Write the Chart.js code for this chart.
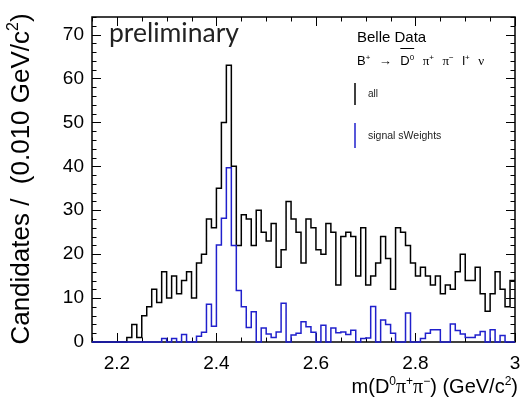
<!DOCTYPE html>
<html>
<head>
<meta charset="utf-8">
<script src="https://cdn.jsdelivr.net/npm/chart.js@4.4.1/dist/chart.umd.min.js"></script>
<style>
    html, body { margin: 0; padding: 0; background: #fff; }
    #mass_hist { display: block; }
</style>
</head>
<body>
<canvas id="mass_hist" width="522" height="400"></canvas>
<script>
// m(D0 pi+ pi-) distribution, 0.010 GeV/c2 bins starting at 2.15
var binLow = 2.15;
var binWidth = 0.010;

// "all" candidates, one entry per bin
var allCounts = [
    0, 0, 0, 0, 0, 0, 0, 1, 4, 1,
    6, 8, 12, 9, 16, 10, 15, 11, 14, 16,
    10, 18, 20, 28, 26, 35, 50, 63, 40, 22,
    29, 28, 22, 30, 25, 23, 27, 17, 21, 32,
    28, 25, 18, 28, 26, 21, 20, 27, 25, 13,
    24, 25, 24, 15, 26, 13, 15, 18, 24, 19,
    12, 26, 25, 22, 18, 15, 17, 15, 13, 15,
    11, 13, 12, 16, 20, 14, 14, 17, 11, 7,
    11, 16, 12, 8, 14
];

// signal sWeights, one entry per bin
var signalWeights = [
    0, 0, 0, 0, 0, 0, 0, 0, 0, 0,
    0, 0, 0, 0, 0.8, 0, 0.8, 0, 1.7, 0,
    0, 1.3, 2.2, 8.6, 3.6, 22.1, 28.2, 39.7, 22, 11.7,
    8, 3.3, 6.9, 0, 3.2, 1.8, 1.0, 2.3, 8.8, 0,
    1.6, 2.0, 4.6, 3.5, 2.2, 0, 3.8, 0, 3.2, 2.1,
    2.3, 1.7, 2.7, 0, 0.8, 0.9, 8.1, 0, 5, 4,
    2, 0, 0, 6.6, 0, 0, 0.8, 2, 2.8, 2.8,
    0, 0, 4.1, 2.6, 1.8, 1, 1, 1.6, 2.4, 0,
    2.8, 0, 1.5, 0, 0
];

var xTickLabels = ['2.2', '2.4', '2.6', '2.8', '3'];
var yTickLabels = ['0', '10', '20', '30', '40', '50', '60', '70'];

var SANS = '"Liberation Sans", Arial, Helvetica, sans-serif';
var SERIF = '"Liberation Serif", "Times New Roman", serif';

function histPoints(values){
    var pts = [];
    for (var i = 0; i < values.length; i++) {
        pts.push({x: binLow + i * binWidth, y: values[i]});
    }
    // close the last bin at its upper edge
    pts.push({x: binLow + values.length * binWidth, y: values[values.length - 1]});
    return pts;
}

function xLabel(v){
    var s = String(Number(v.toFixed(2)));
    return xTickLabels.indexOf(s) >= 0 ? s : '';
}

function yLabel(v){
    var s = String(Math.round(v));
    return yTickLabels.indexOf(s) >= 0 ? s : '';
}

// draw a run of text pieces: [text, font, dy, advance]
function drawRich(ctx, x, y, parts, align){
    var widths = parts.map(function(p){
        ctx.font = p[1];
        return p[3] !== undefined ? p[3] : ctx.measureText(p[0]).width;
    });
    var total = widths.reduce(function(s, w){ return s + w; }, 0);
    var cx = x;
    if (align === 'right') cx = x - total;
    if (align === 'center') cx = x - total / 2;
    var spans = [];
    parts.forEach(function(p, i){
        ctx.font = p[1];
        if (p[3] === undefined) ctx.fillText(p[0], cx, y + (p[2] || 0));
        spans.push([cx, cx + widths[i]]);
        cx += widths[i];
    });
    return spans;
}

var framePlugin = {
    id: 'frame',
    beforeDatasetsDraw: function(chart){
        var ctx = chart.ctx;
        var a = chart.chartArea;
        var xs = chart.scales.x, ys = chart.scales.y;
        ctx.save();
        ctx.strokeStyle = '#000';
        ctx.lineWidth = 1;
        ctx.beginPath();
        xs.ticks.forEach(function(t){
            var px = Math.round(xs.getPixelForValue(t.value)) + 0.5;
            var len = xLabel(t.value) ? 9 : 4.5;
            ctx.moveTo(px, a.bottom); ctx.lineTo(px, a.bottom - len);
            ctx.moveTo(px, a.top); ctx.lineTo(px, a.top + len);
        });
        ys.ticks.forEach(function(t){
            var py = Math.round(ys.getPixelForValue(t.value)) + 0.5;
            var len = yLabel(t.value) ? 9 : 4.5;
            ctx.moveTo(a.left, py); ctx.lineTo(a.left + len, py);
            ctx.moveTo(a.right, py); ctx.lineTo(a.right - len, py);
        });
        ctx.stroke();
        ctx.lineWidth = 1.5;
        ctx.strokeRect(a.left, a.top, a.right - a.left, a.bottom - a.top);
        ctx.restore();
    },
    afterDraw: function(chart){
        var ctx = chart.ctx;
        ctx.save();
        ctx.fillStyle = '#000';
        ctx.textBaseline = 'alphabetic';

        // axis titles
        drawRich(ctx, 518, 393, [
            ['m(D', '20px ' + SANS], ['0', '12px ' + SANS, -8],
            ['\u03c0', '20px ' + SERIF], ['+', '12px ' + SANS, -8],
            ['\u03c0', '20px ' + SERIF], ['\u2212', '12px ' + SANS, -8],
            [') (GeV/c', '20px ' + SANS], ['2', '12px ' + SANS, -8],
            [')', '20px ' + SANS]
        ], 'right');

        ctx.save();
        ctx.translate(29, 179);
        ctx.rotate(-Math.PI / 2);
        drawRich(ctx, 0, 0, [
            ['Candidates /  (0.010 GeV/c', '26px ' + SANS],
            ['2', '16px ' + SANS, -11],
            [')', '26px ' + SANS]
        ], 'center');
        ctx.restore();

        // preliminary tag
        ctx.fillStyle = '#222';
        ctx.font = '26.5px Lato, sans-serif';
        ctx.fillText('preliminary', 109, 42);

        // legend block
        ctx.fillStyle = '#000';
        ctx.font = '15px ' + SANS;
        ctx.fillText('Belle Data', 357, 42);
        var f = '13px ' + SANS, fs = '8px ' + SANS, fg = '13px ' + SERIF;
        var gap = 8.5;
        var spans = drawRich(ctx, 357, 65, [
            ['B', f], ['+', fs, -5], ['', f, 0, gap],
            ['\u2192', f], ['', f, 0, gap],
            ['D', f], ['0', fs, -5], ['', f, 0, gap],
            ['\u03c0', fg], ['+', fs, -5], ['', f, 0, gap],
            ['\u03c0', fg], ['\u2212', fs, -5], ['', f, 0, gap],
            ['l', f], ['+', fs, -5], ['', f, 0, gap],
            ['\u03bd', fg]
        ], 'left');
        ctx.strokeStyle = '#000';
        ctx.lineWidth = 1;
        ctx.beginPath();
        ctx.moveTo(spans[5][0], 48.5); ctx.lineTo(spans[6][1], 48.5);
        ctx.stroke();

        ctx.lineWidth = 1.5;
        ctx.strokeStyle = '#000';
        ctx.beginPath(); ctx.moveTo(355, 83); ctx.lineTo(355, 105); ctx.stroke();
        ctx.strokeStyle = '#2020cc';
        ctx.beginPath(); ctx.moveTo(355, 123); ctx.lineTo(355, 148); ctx.stroke();
        ctx.fillStyle = '#222';
        ctx.textBaseline = 'middle';
        ctx.font = '10px ' + SANS;
        ctx.fillText('all', 368, 94);
        ctx.font = '10.5px ' + SANS;
        ctx.fillText('signal sWeights', 368, 136);
        ctx.restore();
    }
};

function init(){
    var ctx = document.getElementById('mass_hist').getContext('2d');
    var chart = new Chart(ctx, {
        type: 'line',
        data: {
            datasets: [{
                label: 'signal sWeights',
                data: histPoints(signalWeights),
                borderColor: '#2020cc',
                borderWidth: 1.5,
                stepped: 'before',
                fill: false,
                pointRadius: 0,
                clip: 3,
                order: 0
            }, {
                label: 'all',
                data: histPoints(allCounts),
                borderColor: '#000',
                borderWidth: 1.5,
                stepped: 'before',
                fill: false,
                pointRadius: 0,
                clip: 3,
                order: 1
            }]
        },
        options: {
            responsive: false,
            animation: false,
            layout: { padding: { top: 17, right: 7, left: 0, bottom: 0 } },
            plugins: { legend: { display: false }, tooltip: { enabled: false } },
            scales: {
                x: {
                    type: 'linear',
                    min: 2.15,
                    max: 3.0,
                    grid: { display: false, drawTicks: false },
                    border: { display: false },
                    ticks: {
                        stepSize: 0.05,
                        autoSkip: false,
                        maxRotation: 0,
                        padding: 10,
                        color: '#000',
                        font: { family: SANS, size: 19 },
                        callback: function(v){ return xLabel(v); }
                    },
                    afterFit: function(s){
                        s.height = 58;
                        s.paddingLeft = 0;
                        s.paddingRight = 0;
                    }
                },
                y: {
                    type: 'linear',
                    min: 0,
                    max: 74,
                    grid: { display: false, drawTicks: false },
                    border: { display: false },
                    ticks: {
                        stepSize: 2,
                        autoSkip: false,
                        padding: 8,
                        color: '#000',
                        font: { family: SANS, size: 19 },
                        callback: function(v){ return yLabel(v); }
                    },
                    afterFit: function(s){
                        s.width = 92;
                        s.paddingTop = 0;
                        s.paddingBottom = 0;
                    }
                }
            }
        },
        plugins: [framePlugin]
    });
}

window.onload = init;
</script>
</body>
</html>
